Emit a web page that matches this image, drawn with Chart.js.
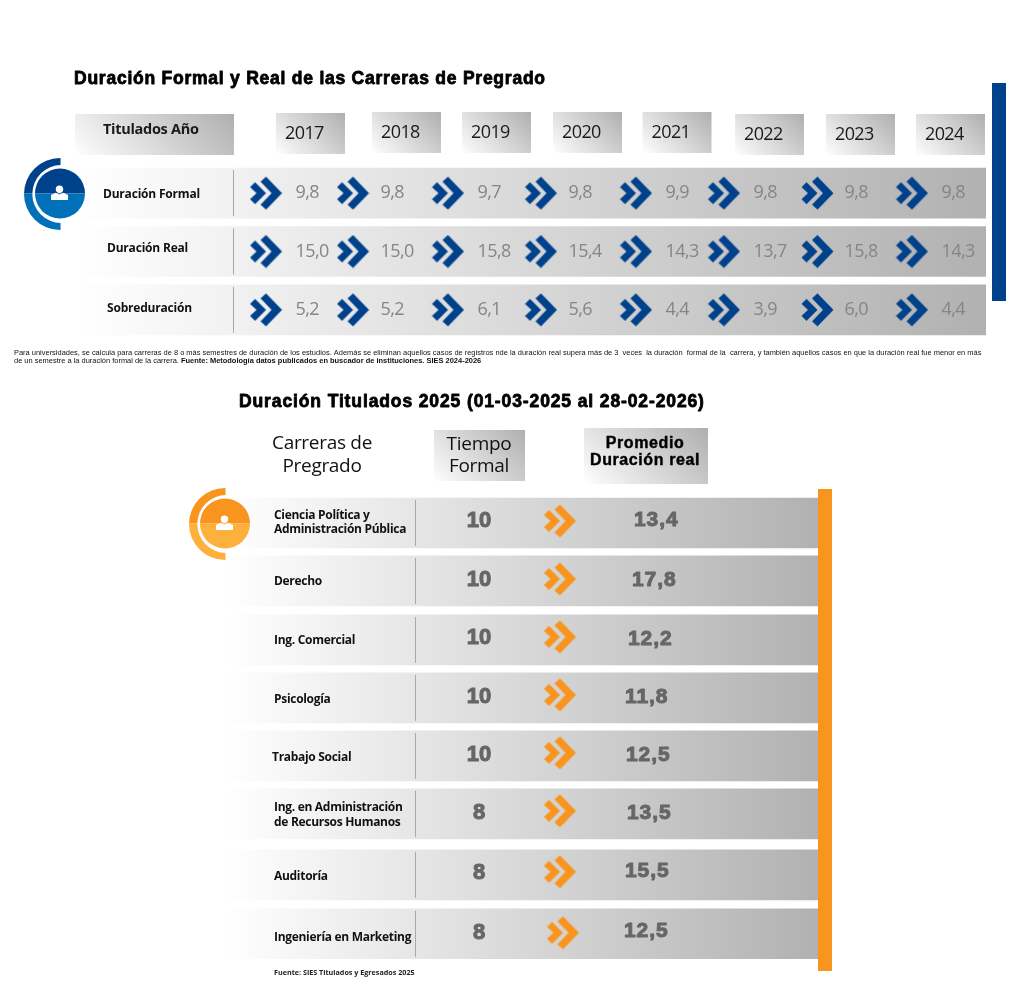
<!DOCTYPE html>
<html lang="es">
<head>
<meta charset="utf-8">
<title>Duración Formal y Real de las Carreras de Pregrado</title>
<script src="https://cdn.jsdelivr.net/npm/chart.js@4"></script>
<style>
html,body{margin:0;padding:0;background:#fff;width:1024px;height:1008px;overflow:hidden}
canvas{position:absolute;left:0}
#top{top:0}
#bottom{top:390px}
</style>
</head>
<body>
<canvas id="top" width="1024" height="390"></canvas>
<canvas id="bottom" width="1024" height="618"></canvas>
<script>
/* ---------- data ---------- */
const years = ['2017','2018','2019','2020','2021','2022','2023','2024'];
const rowsTop = ['Duración Formal','Duración Real','Sobreduración'];
const duracionFormal = [9.8,9.8,9.7,9.8,9.9,9.8,9.8,9.8];
const duracionReal = [15.0,15.0,15.8,15.4,14.3,13.7,15.8,14.3];
const sobreduracion = [5.2,5.2,6.1,5.6,4.4,3.9,6.0,4.4];

const carreras = ['Ciencia Política y|Administración Pública','Derecho','Ing. Comercial','Psicología','Trabajo Social','Ing. en Administración|de Recursos Humanos','Auditoría','Ingeniería en Marketing'];
const tiempoFormal = [10,10,10,10,10,8,8,8];
const promedioReal = [13.4,17.8,12.2,11.8,12.5,13.5,15.5,12.5];

const titleTop = 'Duración Formal y Real de las Carreras de Pregrado';
const titleBottom = 'Duración Titulados 2025 (01-03-2025 al 28-02-2026)';
const noteLine1 = 'Para universidades, se calcula para carreras de 8 o más semestres de duración de los estudios. Además se eliminan aquellos casos de registros nde la duración real supera más de 3  veces  la duración  formal de la  carrera, y también aquellos casos en que la duración real fue menor en más';
const noteLine2a = 'de un semestre a la duración formal de la carrera. ';
const noteLine2b = 'Fuente: Metodología datos publicados en buscador de instituciones. SIES 2024-2026';
const noteBottom = 'Fuente: SIES Titulados y Egresados 2025';

/* ---------- layout nudges (px), separate from the data ---------- */
const L = {
  chevTopDx:[0,-5.5,-3,-2.5,0,-4.5,-3.5,-1.5],
  valTopDx:[29.5,22,26.5,25,29.5,25,23.5,28],
  yearBoxDx:[10,13.5,11,9.5,6.5,6.5,5,2.5],
  yearBoxTop:[113,112,112,112,112,114,114,114],
  rowBotDy:[0,-.7,-.4,-1.1,-1.8,-2.5,-.2,.1],
  chevBotDy:[-2,-2,-3,-3,-3,-3,-3,-1],
  chevBotDx:[-2,-2,-2,-2,-2,-2,-2,1],
  timeBotDy:[-2,-1,-2,-1,-1,-1,-2,-1],
  realBotDy:[-3,-1,-1,-1,-1,-1,-4,-3],
  realBotDx:[-11,-13,-17,-20,-19,-18,-20,-21],
  labelBotDy:[-0.5,1,1,2,2,1,2,4],
  labelBotDx:[0,0,0,0,-2,0,0,0]
};
const NAVY='#00418b', SKY='#0070b8', ORANGE='#f9951f', AMBER='#fdb03c', GREY_LIGHT='#858585', GREY_DARK='#666666', INK='#111111';

/* ---------- helpers ---------- */
function chevron(color){
  const c=document.createElement('canvas'); c.width=33; c.height=34;
  const g=c.getContext('2d'); g.fillStyle=color; g.translate(.5,.5);
  g.beginPath(); [[16,0],[32,16.5],[16,33],[10.5,28],[21.5,16.5],[10.5,5]].forEach((p,i)=>i?g.lineTo(p[0],p[1]):g.moveTo(p[0],p[1])); g.closePath(); g.fill();
  g.beginPath(); [[5,5.5],[16,16.5],[5,27.5],[0,22.5],[6.5,16.5],[0,10.5]].forEach((p,i)=>i?g.lineTo(p[0],p[1]):g.moveTo(p[0],p[1])); g.closePath(); g.fill();
  return c;
}
function text(ctx,s,x,y,o){
  ctx.save();
  ctx.font=o.font; ctx.fillStyle=o.color||INK; ctx.textAlign=o.align||'left'; ctx.textBaseline='middle';
  ctx.letterSpacing=o.ls||'0px';
  if(o.stroke){ctx.strokeStyle=o.color||INK; ctx.lineWidth=o.stroke; ctx.lineJoin='round'; ctx.strokeText(s,x,y);}
  ctx.fillText(s,x,y);
  ctx.restore();
}
function headBox(ctx,x,y,w,h){
  const d=(w+h)/4,cx=x+w/2,cy=y+h/2;
  const g=ctx.createLinearGradient(cx-d,cy+d,cx+d,cy-d);
  g.addColorStop(0,'#ffffff'); g.addColorStop(.12,'#f4f4f4'); g.addColorStop(1,'#afafaf');
  ctx.fillStyle=g; ctx.fillRect(x,y,w,h);
}
function icon(ctx,cx,cy,dark,light){
  [[dark,cy-50,50],[light,cy,50]].forEach(([col,y,h])=>{
    ctx.save(); ctx.beginPath(); ctx.rect(cx-50,y,50+.5,h); ctx.clip();
    ctx.fillStyle=col; ctx.beginPath();
    ctx.arc(cx,cy+.5,36,0,Math.PI*2); ctx.moveTo(cx+1.3+29,cy+.5); ctx.arc(cx+1.3,cy+.5,29,0,Math.PI*2);
    ctx.fill('evenodd'); ctx.restore();
    ctx.save(); ctx.beginPath(); ctx.rect(cx-30,y,60,h); ctx.clip();
    ctx.fillStyle=col; ctx.beginPath(); ctx.arc(cx,cy,25,0,Math.PI*2); ctx.fill(); ctx.restore();
  });
  ctx.fillStyle='#fff';
  ctx.beginPath(); ctx.arc(cx-.5,cy-4.2,3.7,0,Math.PI*2); ctx.fill();
  ctx.beginPath(); ctx.moveTo(cx-9,cy+6.5); ctx.lineTo(cx-9,cy+1.5); ctx.lineTo(cx-4.5,cy-.8); ctx.lineTo(cx-.5,cy+1); ctx.lineTo(cx+3.5,cy-.8); ctx.lineTo(cx+8,cy+1.5); ctx.lineTo(cx+8,cy+6.5); ctx.closePath(); ctx.fill();
}
const baseOptions=(xMin,xMax,pad,rows)=>({
  responsive:false, animation:false, indexAxis:'y', events:[], devicePixelRatio:1,
  layout:{padding:pad},
  plugins:{legend:{display:false},tooltip:{enabled:false},title:{display:false}},
  scales:{
    x:{type:'linear',min:xMin,max:xMax,display:false,grid:{display:false}},
    y:{type:'category',labels:rows,offset:true,display:false,grid:{display:false}}
  }
});
function bandFill(from,to){
  return c=>{
    const g=c.chart.ctx.createLinearGradient(from,0,to,0);
    g.addColorStop(0,'#ffffff'); g.addColorStop(.05,'#fbfbfb'); g.addColorStop(1,'#b1b1b1');
    return g;
  };
}
function drawValues(chart){
  chart.data.datasets.forEach((ds,i)=>{
    if(!ds.valueStyle) return;
    chart.getDatasetMeta(i).data.forEach((el,j)=>{
      const v=ds.data[j].v;
      const s=ds.valueStyle.decimals? v.toFixed(1).replace('.',','):String(v);
      text(chart.ctx,s,el.x,el.y,ds.valueStyle);
    });
  });
}

/* ---------- top chart ---------- */
const rowSeriesTop=[duracionFormal,duracionReal,sobreduracion];
const topXMin=-2.065, topXMax=7.784;
const topValues=rowSeriesTop.map((arr,r)=>({
  type:'scatter',label:rowsTop[r],order:1,
  data:arr.map((v,i)=>({x:i,y:rowsTop[r],v})),
  pointRadius:0,clip:false,
  valueKind:'value',
  valueStyle:{font:'400 18px "Open Sans"',color:GREY_LIGHT,ls:'-0.55px',decimals:true}
}));
const topChev=rowsTop.map(r=>({
  type:'scatter',label:'»',order:1,
  data:years.map((y,i)=>({x:i,y:r})),
  pointStyle:chevron(NAVY),pointRadius:16,clip:false,
  valueKind:'chev'
}));
new Chart(document.getElementById('top'),{
  type:'bar',
  data:{labels:rowsTop,datasets:[
    {type:'bar',label:'fila',order:10,data:rowsTop.map(()=>[topXMin,topXMax]),barThickness:50,backgroundColor:bandFill(75,986),borderWidth:0,borderSkipped:false},
    ...topChev,...topValues
  ]},
  options:baseOptions(topXMin,topXMax,{left:75,right:38,top:164,bottom:51},rowsTop),
  plugins:[{
    id:'topLayout',
    afterDatasetsUpdate(chart){
      chart.data.datasets.forEach((ds,i)=>{
        const meta=chart.getDatasetMeta(i);
        if(ds.valueKind==='chev') meta.data.forEach((el,j)=>{el.x+=L.chevTopDx[j];});
        if(ds.valueKind==='value') meta.data.forEach((el,j)=>{el.x+=L.valTopDx[j];});
      });
    },
    beforeDatasetsDraw(chart){
      const ctx=chart.ctx,xs=chart.scales.x;
      text(ctx,titleTop,74,79,{font:'700 17.5px "Liberation Sans"',color:'#000',ls:'0.76px',stroke:.8});
      headBox(ctx,75,114,159,41);
      text(ctx,'Titulados Año',103,130,{font:'700 14.5px "Open Sans"',color:'#1a1a1a',ls:'-0.3px'});
      years.forEach((y,i)=>{
        const x=xs.getPixelForValue(i)+L.yearBoxDx[i],t=L.yearBoxTop[i];
        headBox(ctx,x,t,69,41);
        text(ctx,y,x+9,t+21,{font:'400 18px "Open Sans"',color:'#1a1a1a',ls:'-0.6px'});
      });
      text(ctx,noteLine1,14,352.5,{font:'400 7.46px "Liberation Sans"',color:'#111'});
      text(ctx,noteLine2a,14,361,{font:'400 7.46px "Liberation Sans"',color:'#111'});
      ctx.save();ctx.font='400 7.46px "Liberation Sans"';const w=ctx.measureText(noteLine2a).width;ctx.restore();
      text(ctx,noteLine2b,14+w,361,{font:'700 7.46px "Liberation Sans"',color:'#111'});
    },
    afterDatasetsDraw(chart){
      const ctx=chart.ctx,ys=chart.scales.y;
      ctx.fillStyle='#a8a8a8';
      rowsTop.forEach((r,k)=>{ctx.fillRect(233,ys.getPixelForValue(k)-23,1,46);});
      const lx=[103,107,107],dy=[1.5,-2.5,-1.5];
      rowsTop.forEach((r,k)=>text(ctx,r,lx[k],ys.getPixelForValue(k)+dy[k],{font:'700 12px "Open Sans"',color:'#111',ls:'-0.2px'}));
      drawValues(chart);
      icon(ctx,60,193.5,NAVY,SKY);
      ctx.fillStyle=NAVY; ctx.fillRect(992,83,14,218);
    }
  }]
});

/* ---------- bottom chart ---------- */
const botXMin=(225-479)/166, botXMax=(818-479)/166;
const botTime={type:'scatter',label:'Tiempo Formal',order:1,
  data:tiempoFormal.map((v,i)=>({x:0,y:carreras[i],v})),
  pointRadius:0,clip:false,valueKind:'time',
  valueStyle:{font:'700 22px "Liberation Sans"',color:GREY_DARK,align:'center',stroke:1}};
const botReal={type:'scatter',label:'Promedio Duración real',order:1,
  data:promedioReal.map((v,i)=>({x:1,y:carreras[i],v})),
  pointRadius:0,clip:false,valueKind:'real',
  valueStyle:{font:'700 21px "Liberation Sans"',color:GREY_DARK,stroke:1,ls:'0.9px',decimals:true}};
const botChev={type:'scatter',label:'»',order:1,
  data:carreras.map(c=>({x:.5,y:c})),
  pointStyle:chevron(ORANGE),pointRadius:16,clip:false,valueKind:'chev'};
new Chart(document.getElementById('bottom'),{
  type:'bar',
  data:{labels:carreras,datasets:[
    {type:'bar',label:'fila',order:10,data:carreras.map(()=>[botXMin,botXMax]),barThickness:50,backgroundColor:bandFill(225,818),borderWidth:0,borderSkipped:false,valueKind:'band'},
    botChev,botTime,botReal
  ]},
  options:baseOptions(botXMin,botXMax,{left:225,right:206,top:103.65,bottom:45},carreras),
  plugins:[{
    id:'botLayout',
    afterDatasetsUpdate(chart){
      chart.data.datasets.forEach((ds,i)=>{
        const meta=chart.getDatasetMeta(i),k=ds.valueKind;
        meta.data.forEach((el,j)=>{
          const rowDy=L.rowBotDy[j];
          if(k==='band') el.y+=rowDy;
          if(k==='chev'){el.x+=L.chevBotDx[j];el.y+=rowDy+L.chevBotDy[j];}
          if(k==='time'){el.y+=rowDy+L.timeBotDy[j];}
          if(k==='real'){el.x+=L.realBotDx[j];el.y+=rowDy+L.realBotDy[j];}
        });
      });
    },
    beforeDatasetsDraw(chart){
      const ctx=chart.ctx;
      text(ctx,titleBottom,239,12.5,{font:'700 17.5px "Liberation Sans"',color:'#000',ls:'0.88px',stroke:.8});
      const hd={font:'500 19px "Open Sans"',color:'#111',align:'center',ls:'-0.3px'};
      text(ctx,'Carreras de',322,54,hd);
      text(ctx,'Pregrado',322,77,hd);
      headBox(ctx,434,40,91,51);
      text(ctx,'Tiempo',479,54.5,hd);
      text(ctx,'Formal',479,77,hd);
      headBox(ctx,584,38,124,56);
      const pr={font:'700 16px "Liberation Sans"',color:'#000',align:'center',stroke:.4,ls:'0.6px'};
      text(ctx,'Promedio',645,53.5,pr);
      text(ctx,'Duración real',645,71,pr);
      text(ctx,noteBottom,274,583,{font:'700 7.2px "Open Sans"',color:'#222'});
    },
    afterDatasetsDraw(chart){
      const ctx=chart.ctx,ys=chart.scales.y;
      ctx.fillStyle='#a8a8a8';
      carreras.forEach((c,k)=>{
        const y=ys.getPixelForValue(k)+L.rowBotDy[k];
        ctx.fillRect(415,y-23,1,46);
        const lines=c.split('|'),lh=lines.length>1?14.5:0;
        lines.forEach((s,n)=>text(ctx,s,274+L.labelBotDx[k],y+L.labelBotDy[k]+(n-(lines.length-1)/2)*lh,{font:'700 12px "Open Sans"',color:'#111',ls:'-0.3px'}));
      });
      drawValues(chart);
      icon(ctx,225,133.5,ORANGE,AMBER);
      ctx.fillStyle=ORANGE; ctx.fillRect(818,99,14,482);
    }
  }]
});
</script>
</body>
</html>
